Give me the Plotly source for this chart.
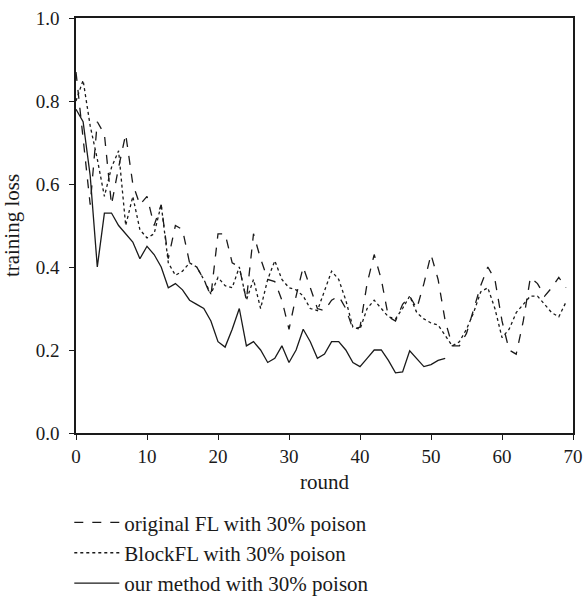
import plotly.graph_objects as go

rounds_fl = list(range(70))
original_fl = [0.87, 0.71, 0.55, 0.75, 0.72, 0.55, 0.64, 0.72, 0.60, 0.55,
               0.57, 0.50, 0.55, 0.42, 0.50, 0.49, 0.41, 0.40, 0.37, 0.33,
               0.48, 0.48, 0.41, 0.40, 0.32, 0.48, 0.42, 0.37, 0.365, 0.32,
               0.25, 0.33, 0.40, 0.35, 0.30, 0.295, 0.32, 0.33, 0.30, 0.25,
               0.255, 0.36, 0.43, 0.37, 0.28, 0.27, 0.31, 0.33, 0.30, 0.36,
               0.43, 0.37, 0.27, 0.21, 0.21, 0.24, 0.30, 0.355, 0.40, 0.37,
               0.27, 0.20, 0.19, 0.27, 0.375, 0.36, 0.33, 0.35, 0.375, 0.35]

rounds_block = list(range(70))
blockfl = [0.80, 0.85, 0.74, 0.66, 0.57, 0.64, 0.68, 0.50, 0.57, 0.49,
           0.47, 0.48, 0.55, 0.41, 0.38, 0.39, 0.41, 0.40, 0.37, 0.335,
           0.375, 0.355, 0.35, 0.40, 0.32, 0.37, 0.30, 0.37, 0.415, 0.37,
           0.35, 0.345, 0.33, 0.30, 0.295, 0.34, 0.39, 0.37, 0.32, 0.255,
           0.25, 0.30, 0.32, 0.30, 0.28, 0.275, 0.30, 0.33, 0.29, 0.275,
           0.265, 0.26, 0.235, 0.21, 0.22, 0.25, 0.29, 0.34, 0.35, 0.30,
           0.23, 0.25, 0.29, 0.31, 0.33, 0.33, 0.31, 0.29, 0.28, 0.315]

rounds_ours = list(range(53))
our_method = [0.78, 0.75, 0.62, 0.40, 0.53, 0.53, 0.50, 0.48, 0.46, 0.42,
              0.45, 0.43, 0.40, 0.35, 0.36, 0.345, 0.32, 0.31, 0.30, 0.27,
              0.22, 0.207, 0.25, 0.30, 0.21, 0.22, 0.20, 0.17, 0.18, 0.21,
              0.17, 0.20, 0.25, 0.22, 0.18, 0.19, 0.22, 0.22, 0.20, 0.17,
              0.16, 0.18, 0.20, 0.20, 0.175, 0.145, 0.147, 0.198, 0.18, 0.16,
              0.165, 0.175, 0.18]

x_ticks = [0, 10, 20, 30, 40, 50, 60, 70]
y_ticks = [0.0, 0.2, 0.4, 0.6, 0.8, 1.0]

FONT = "Liberation Serif"
INK = "#1a1a1a"

fig = go.Figure()
fig.add_trace(go.Scatter(x=rounds_fl, y=original_fl, mode="lines",
                         name="original FL with 30% poison",
                         line=dict(color=INK, width=1.3, dash="dash")))
fig.add_trace(go.Scatter(x=rounds_block, y=blockfl, mode="lines",
                         name="BlockFL with 30% poison",
                         line=dict(color=INK, width=1.3, dash="dot")))
fig.add_trace(go.Scatter(x=rounds_ours, y=our_method, mode="lines",
                         name="our method with 30% poison",
                         line=dict(color=INK, width=1.3)))

fig.update_layout(
    width=584, height=596,
    margin=dict(l=76, r=11, t=18, b=163, autoexpand=False),
    paper_bgcolor="white", plot_bgcolor="white",
    font=dict(family=FONT, size=19, color=INK),
    showlegend=True,
    legend=dict(x=-0.0135, xanchor="left", y=-0.167, yanchor="top",
                orientation="v", font=dict(family=FONT, size=21, color=INK),
                tracegroupgap=0, itemwidth=45, bgcolor="rgba(0,0,0,0)"),
)
fig.update_xaxes(range=[0, 70], tickvals=x_ticks, ticks="outside", ticklen=5,
                 tickcolor=INK, showline=True, linecolor=INK, linewidth=1.5,
                 mirror=True, showgrid=False, zeroline=False, automargin=False,
                 ticklabeloverflow="allow",
                 title=dict(text="round", standoff=9, font=dict(size=21)),
                 tickfont=dict(family=FONT, size=19))
fig.update_yaxes(range=[0, 1.0], tickvals=y_ticks, tickformat=".1f",
                 ticks="outside", ticklen=5, tickcolor=INK, showline=True,
                 linecolor=INK, linewidth=1.5, mirror=True, showgrid=False,
                 zeroline=False, automargin=False, ticklabeloverflow="allow",
                 ticklabelstandoff=6,
                 title=dict(text="training loss", standoff=10, font=dict(size=21)),
                 tickfont=dict(family=FONT, size=19))

fig.write_html(
    "out.html",
    config={"displayModeBar": False},
    post_script="document.body.style.margin='0';document.body.style.overflow='hidden';",
)
